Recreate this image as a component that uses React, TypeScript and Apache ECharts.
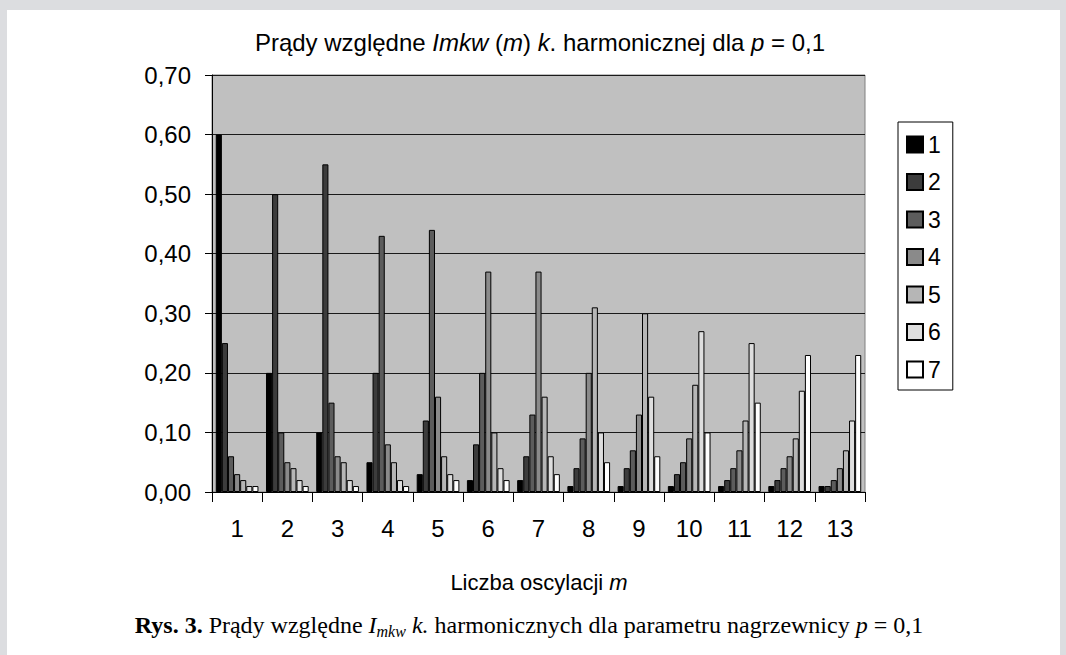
import React, { useEffect, useRef } from 'react';
import * as echarts from 'echarts';

const categories = ['1', '2', '3', '4', '5', '6', '7', '8', '9', '10', '11', '12', '13'];
const seriesNames = ['1', '2', '3', '4', '5', '6', '7'];

const h1 = [0.60, 0.20, 0.10, 0.05, 0.03, 0.02, 0.02, 0.01, 0.01, 0.01, 0.01, 0.01, 0.01];
const h2 = [0.25, 0.50, 0.55, 0.20, 0.12, 0.08, 0.06, 0.04, 0.04, 0.03, 0.02, 0.02, 0.01];
const h3 = [0.06, 0.10, 0.15, 0.43, 0.44, 0.20, 0.13, 0.09, 0.07, 0.05, 0.04, 0.04, 0.02];
const h4 = [0.03, 0.05, 0.06, 0.08, 0.16, 0.37, 0.37, 0.20, 0.13, 0.09, 0.07, 0.06, 0.04];
const h5 = [0.02, 0.04, 0.05, 0.05, 0.06, 0.10, 0.16, 0.31, 0.30, 0.18, 0.12, 0.09, 0.07];
const h6 = [0.01, 0.02, 0.02, 0.02, 0.03, 0.04, 0.06, 0.10, 0.16, 0.27, 0.25, 0.17, 0.12];
const h7 = [0.01, 0.01, 0.01, 0.01, 0.02, 0.02, 0.03, 0.05, 0.06, 0.10, 0.15, 0.23, 0.23];

const seriesValues = [h1, h2, h3, h4, h5, h6, h7];
const seriesColors = ['#000000', '#3c3c3c', '#5c5c5c', '#8a8a8a', '#b6b6b6', '#dedede', '#ffffff'];

const yMin = 0;
const yMax = 0.7;
const yInterval = 0.1;

const SANS = "'Liberation Sans', Arial, Helvetica, sans-serif";
const SERIF = "'Liberation Serif', 'Times New Roman', serif";

export default function App() {
  const ref = useRef<HTMLDivElement>(null);

  useEffect(() => {
    if (!ref.current) return;
    const chart = echarts.init(ref.current, null, { renderer: 'svg' });
    chart.setOption({
      animation: false,
      backgroundColor: 'transparent',
      grid: {
        left: 212,
        right: 201,
        top: 75,
        bottom: 163,
        show: true,
        backgroundColor: '#c0c0c0',
        borderColor: '#808080',
        borderWidth: 1,
        containLabel: false,
      },
      legend: {
        orient: 'vertical',
        left: 898,
        top: 122,
        data: seriesNames,
        icon: 'rect',
        itemWidth: 16,
        itemHeight: 16,
        itemGap: 14.5,
        padding: [11, 12, 9, 8],
        borderColor: '#000',
        borderWidth: 1,
        backgroundColor: '#fff',
        selectedMode: false,
        textStyle: { fontSize: 23, fontFamily: SANS, color: '#000', lineHeight: 23 },
      },
      xAxis: {
        type: 'category',
        data: categories,
        axisLine: { show: true, lineStyle: { color: '#000', width: 1 } },
        axisTick: { show: true, length: 10, alignWithLabel: false, interval: 0, lineStyle: { color: '#000' } },
        axisLabel: { fontSize: 24, fontFamily: SANS, color: '#000', margin: 24, interval: 0 },
        splitLine: { show: false },
      },
      yAxis: {
        type: 'value',
        min: yMin,
        max: yMax,
        interval: yInterval,
        axisLine: { show: true, lineStyle: { color: '#000', width: 1 } },
        axisTick: { show: true, length: 7, lineStyle: { color: '#000' } },
        axisLabel: {
          fontSize: 24,
          fontFamily: SANS,
          color: '#000',
          margin: 21,
          formatter: (v: number) => v.toFixed(2).replace('.', ','),
        },
        splitLine: { show: true, lineStyle: { color: '#1a1a1a', width: 1 } },
      },
      series: seriesValues.map((vals, i) => ({
        name: seriesNames[i],
        type: 'bar',
        data: vals,
        barGap: '0%',
        barCategoryGap: '15%',
        itemStyle: { color: seriesColors[i], borderColor: '#000', borderWidth: 1 },
        emphasis: { disabled: true },
      })),
      graphic: [
        {
          type: 'text',
          x: 540,
          y: 42,
          style: {
            text: '{n|Prądy względne }{i|Imkw}{n| (}{i|m}{n|) }{i|k}{n|. harmonicznej dla }{i|p}{n| = 0,1}',
            align: 'center',
            verticalAlign: 'middle',
            rich: {
              n: { fontSize: 24, fontFamily: SANS, fill: '#000' },
              i: { fontSize: 24, fontFamily: SANS, fontStyle: 'italic', fill: '#000' },
            },
          },
        },
        {
          type: 'text',
          x: 539,
          y: 582,
          style: {
            text: '{n|Liczba oscylacji }{i|m}',
            align: 'center',
            verticalAlign: 'middle',
            rich: {
              n: { fontSize: 22, fontFamily: SANS, fill: '#000' },
              i: { fontSize: 22, fontFamily: SANS, fontStyle: 'italic', fill: '#000' },
            },
          },
        },
        {
          type: 'text',
          x: 529,
          y: 625,
          style: {
            text: '{b|Rys. 3.}{n| Prądy względne }{i|I}{sub|mkw}{n| }{i|k.}{n| harmonicznych dla parametru nagrzewnicy }{i|p}{n| = 0,1}',
            align: 'center',
            verticalAlign: 'middle',
            rich: {
              b: { fontSize: 24, fontFamily: SERIF, fontWeight: 'bold', fill: '#000', lineHeight: 28 },
              n: { fontSize: 24, fontFamily: SERIF, fill: '#000', lineHeight: 28 },
              i: { fontSize: 24, fontFamily: SERIF, fontStyle: 'italic', fill: '#000', lineHeight: 28 },
              sub: { fontSize: 16, fontFamily: SERIF, fontStyle: 'italic', fill: '#000', lineHeight: 16, verticalAlign: 'bottom' },
            },
          },
        },
      ],
    });
    return () => chart.dispose();
  }, []);

  return (
    <div style={{ position: 'fixed', left: 0, top: 0, width: 1066, height: 655, background: '#dcdde0' }}>
      <div style={{ position: 'absolute', left: 7, top: 10, width: 1053, height: 645, background: '#ffffff' }} />
      <div ref={ref} style={{ position: 'absolute', left: 0, top: 0, width: 1066, height: 655 }} />
    </div>
  );
}
